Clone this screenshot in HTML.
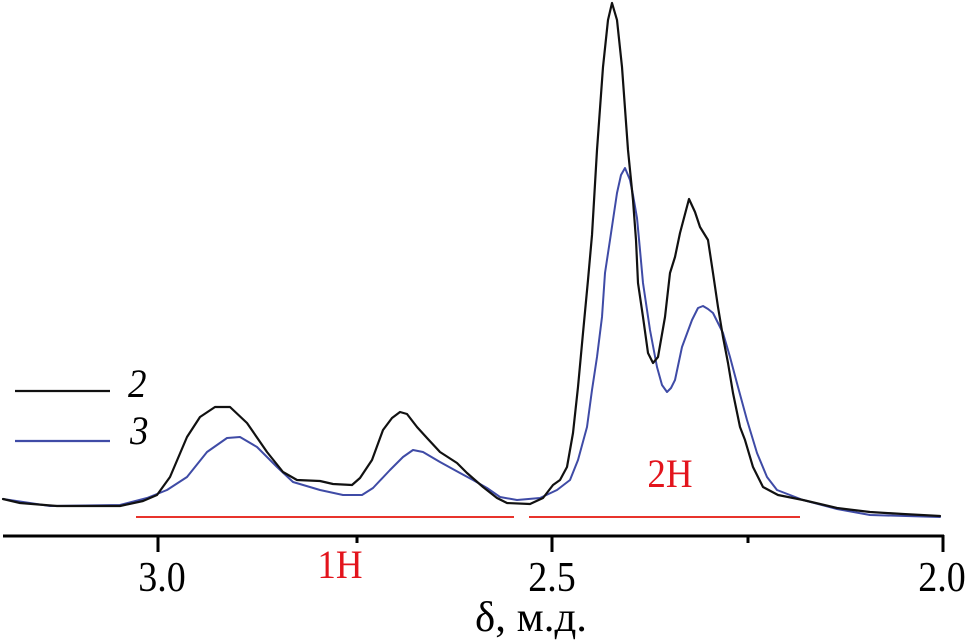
<!DOCTYPE html>
<html>
<head>
<meta charset="utf-8">
<style>
  html, body { margin:0; padding:0; background:#fff; }
  svg { display:block; }
  text { font-family: "Liberation Serif", "DejaVu Serif", serif; }
</style>
</head>
<body>
<svg width="968" height="643" viewBox="0 0 968 643" xmlns="http://www.w3.org/2000/svg">
  <rect width="968" height="643" fill="#fff"/>

  <!-- Blue curve (3) -->
  <polyline fill="none" stroke="#3f4ba6" stroke-width="2" stroke-linejoin="round" stroke-linecap="round"
    points="3,499 50,506 120,505 147,498 167,490 187,477 207,452 227,438 240,437 257,447 277,467 293,482 320,490 343,495 362,495 373,488 390,470 403,457 413,450 423,452 440,462 460,473 473,480 487,488 500,497 517,500 540,498 557,490 570,480 578,460 587,427 592,390 597,357 602,317 605,273 610,240 617,193 621,175 625,168 630,180 633,195 637,218 640,250 643,283 650,330 657,367 662,385 667,392 671,388 675,380 682,347 692,320 698,308 703,306 708,309 713,313 723,333 730,357 738,387 747,420 757,453 767,477 777,490 803,500 837,509 870,515 940,517"/>

  <!-- Black curve (2) -->
  <polyline fill="none" stroke="#111" stroke-width="2.2" stroke-linejoin="round" stroke-linecap="round"
    points="3,499 20,503 57,506 120,506 143,501 157,495 170,477 187,437 200,417 215,407 230,407 247,423 267,452 283,472 297,480 320,481 333,484 352,485 360,478 372,460 383,430 392,418 400,412 407,414 417,427 427,438 440,452 457,463 467,473 483,487 497,498 507,503 530,504 543,498 553,485 560,480 567,467 573,433 578,387 583,333 588,280 592,235 597,150 603,67 608,20 612,3 617,20 622,67 628,150 633,200 636,240 638,283 643,317 648,353 653,363 658,357 665,317 670,273 675,257 680,233 689,199 695,212 700,227 708,240 713,273 718,307 723,337 728,363 733,393 740,427 745,440 753,467 763,487 778,495 803,500 837,508 870,512 903,514 940,516"/>

  <!-- Red integration lines -->
  <line x1="136" y1="517" x2="514" y2="517" stroke="#e8342c" stroke-width="2"/>
  <line x1="529" y1="517" x2="800" y2="517" stroke="#e8342c" stroke-width="2"/>

  <!-- Axis -->
  <line x1="3" y1="536" x2="944" y2="536" stroke="#000" stroke-width="3"/>
  <line x1="158" y1="535" x2="158" y2="552" stroke="#000" stroke-width="3"/>
  <line x1="552" y1="535" x2="552" y2="552" stroke="#000" stroke-width="3"/>
  <line x1="943" y1="535" x2="943" y2="552" stroke="#000" stroke-width="3"/>
  <line x1="357" y1="535" x2="357" y2="543" stroke="#000" stroke-width="3"/>
  <line x1="748" y1="535" x2="748" y2="543" stroke="#000" stroke-width="3"/>

  <!-- Tick labels -->
  <text transform="translate(162,591) scale(1,1.1)" font-size="38" text-anchor="middle" fill="#000">3.0</text>
  <text transform="translate(552,591) scale(1,1.1)" font-size="38" text-anchor="middle" fill="#000">2.5</text>
  <text transform="translate(942,591) scale(1,1.1)" font-size="38" text-anchor="middle" fill="#000">2.0</text>

  <!-- Axis title -->
  <text transform="translate(475,631) scale(1,1.1)" font-size="38" fill="#000" textLength="112" lengthAdjust="spacingAndGlyphs">δ, м.д.</text>

  <!-- Integration labels -->
  <text transform="translate(340,578) scale(1,1.1)" font-size="37" text-anchor="middle" fill="#e3141c">1H</text>
  <text transform="translate(670,487) scale(1,1.1)" font-size="37" text-anchor="middle" fill="#e3141c">2H</text>

  <!-- Legend -->
  <line x1="15" y1="391" x2="110" y2="391" stroke="#111" stroke-width="2.2"/>
  <line x1="15" y1="441" x2="110" y2="441" stroke="#3f4ba6" stroke-width="2.2"/>
  <text transform="translate(128,397) scale(1,1.1)" font-size="37" font-style="italic" fill="#000">2</text>
  <text transform="translate(130,444) scale(1,1.1)" font-size="37" font-style="italic" fill="#000">3</text>
</svg>
</body>
</html>
